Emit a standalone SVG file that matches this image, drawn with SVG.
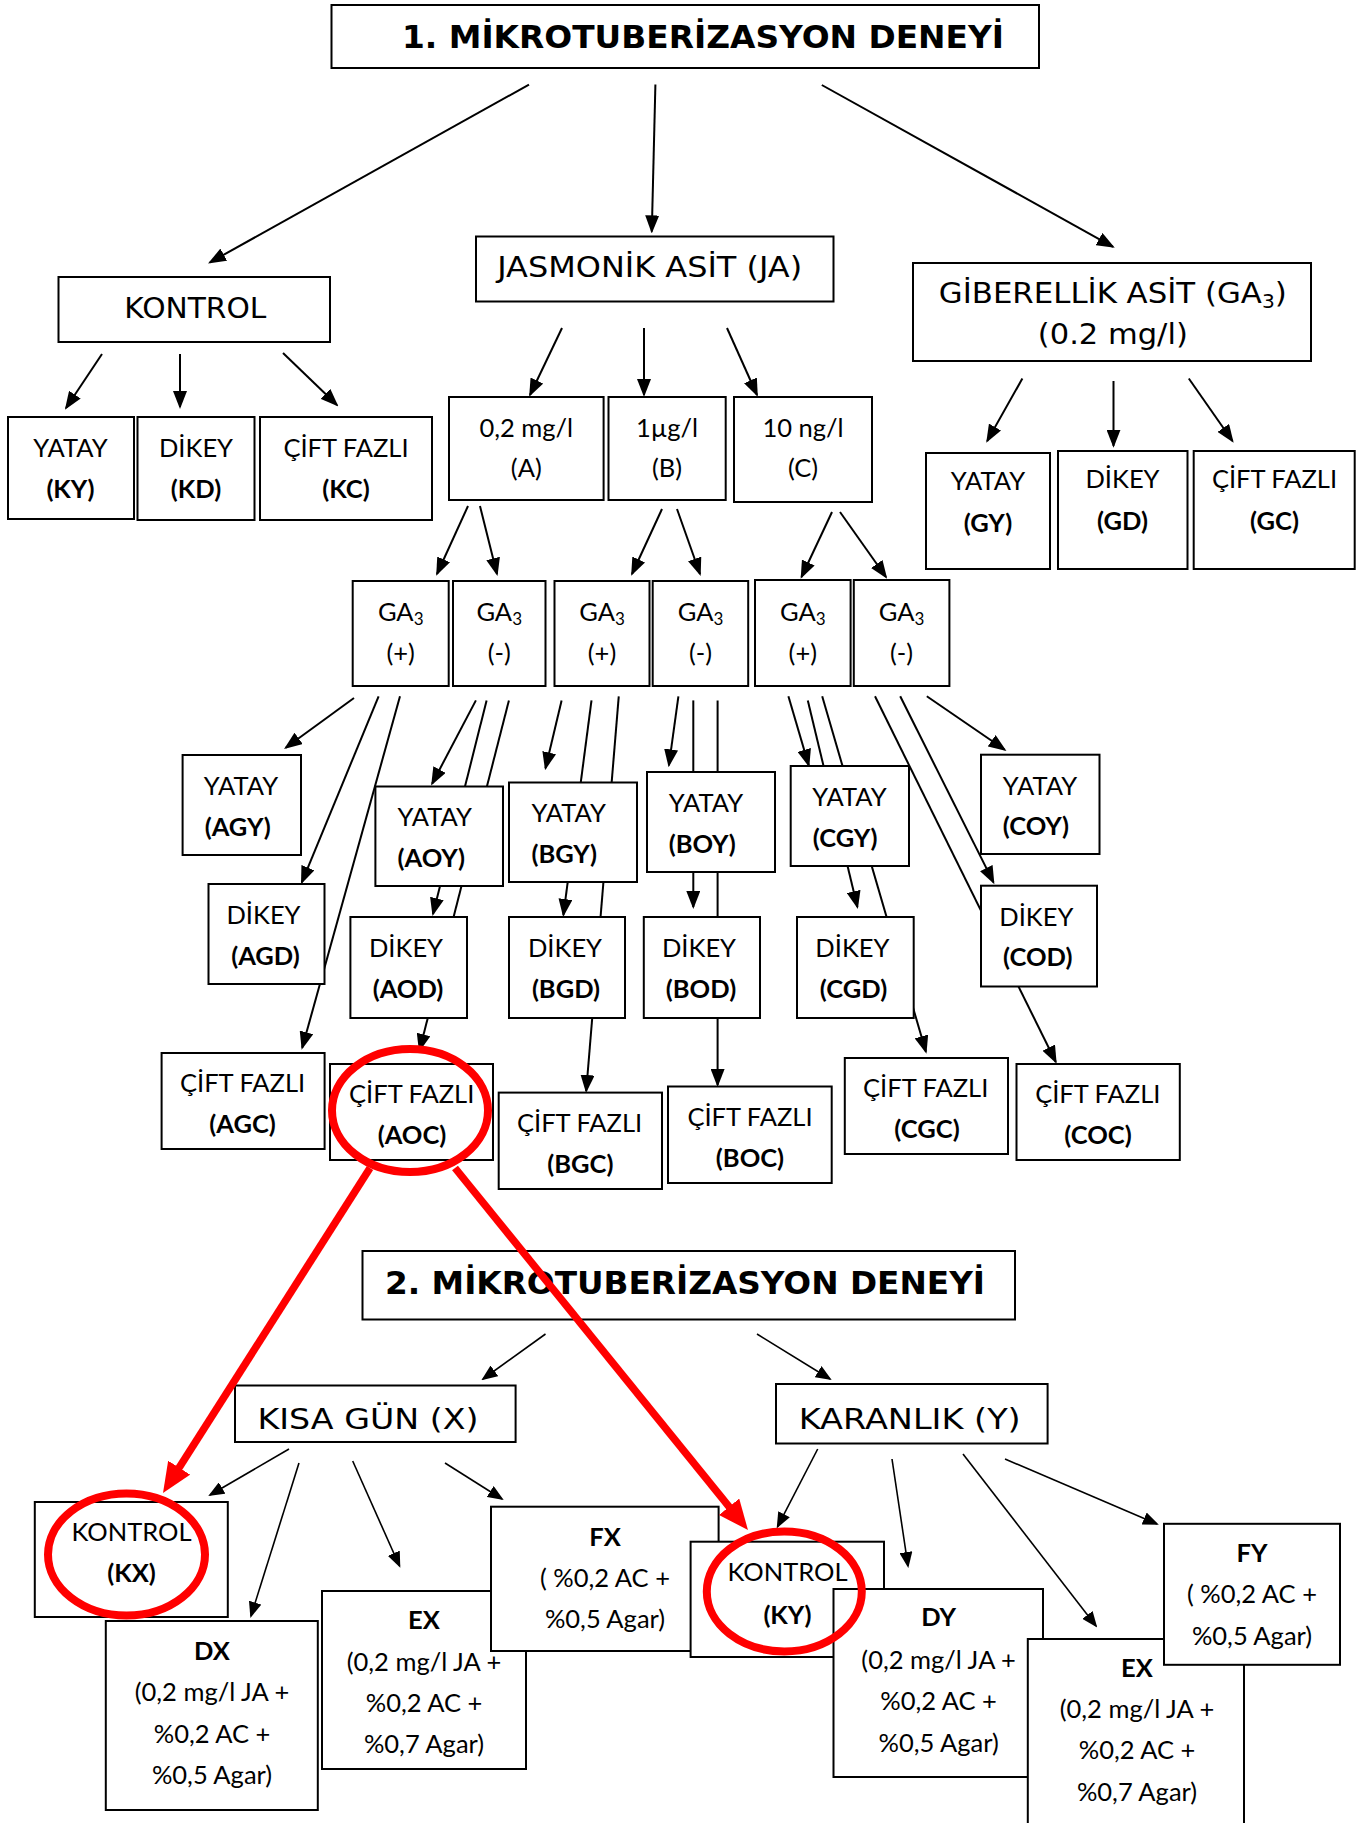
<svg xmlns="http://www.w3.org/2000/svg" width="1357" height="1823" viewBox="0 0 1357 1823">
<defs>
<style>
.b{fill:#fff;stroke:#000;stroke-width:2}
.v{font-family:"DejaVu Sans",Verdana,sans-serif;font-size:29px;text-anchor:middle;fill:#000}
.t{font-family:"DejaVu Sans",Verdana,sans-serif;font-weight:bold;font-size:32.5px;text-anchor:middle;fill:#000}
.c{font-family:Lato,"Liberation Sans",sans-serif;font-size:25.5px;text-anchor:middle;fill:#000}
.cb{font-weight:bold}
.ln{stroke:#000;stroke-width:2;fill:none;marker-end:url(#ah)}
.ls{stroke:#000;stroke-width:1.6;fill:none;marker-end:url(#ahs)}
.rd{stroke:#ff0000;stroke-width:8;fill:none}
.ra{stroke:#ff0000;stroke-width:7.5;fill:none;marker-end:url(#rah)}
</style>
<marker id="ah" markerUnits="userSpaceOnUse" markerWidth="18" markerHeight="14" refX="16" refY="7" orient="auto"><path d="M0,0 L18,7 L0,14 z" fill="#000"/></marker>
<marker id="ahs" markerUnits="userSpaceOnUse" markerWidth="16" markerHeight="13" refX="14" refY="6.5" orient="auto"><path d="M0,0 L16,6.5 L0,13 z" fill="#000"/></marker>
<marker id="rah" markerUnits="userSpaceOnUse" markerWidth="30" markerHeight="26" refX="14" refY="13" orient="auto"><path d="M0,0 L30,13 L0,26 z" fill="#ff0000"/></marker>
</defs>
<rect width="1357" height="1823" fill="#fff"/>

<g id="connectors">
<line class="ln" x1="529" y1="84.6" x2="209.8" y2="262.5"/>
<line class="ln" x1="655.4" y1="84.6" x2="651.8" y2="231.4"/>
<line class="ln" x1="821.8" y1="85" x2="1113" y2="246.8"/>
<line class="ln" x1="102" y1="354" x2="66" y2="408"/>
<line class="ln" x1="180" y1="354" x2="180" y2="407"/>
<line class="ln" x1="283" y1="353" x2="337" y2="405"/>
<line class="ln" x1="562" y1="328" x2="530" y2="395"/>
<line class="ln" x1="644" y1="328" x2="644" y2="395"/>
<line class="ln" x1="727" y1="328" x2="757" y2="395"/>
<line class="ln" x1="1022.4" y1="378.5" x2="987.2" y2="441"/>
<line class="ln" x1="1113.5" y1="381" x2="1113.5" y2="445.8"/>
<line class="ln" x1="1188.8" y1="378.5" x2="1232.5" y2="441"/>
<line class="ln" x1="468" y1="506" x2="437" y2="574"/>
<line class="ln" x1="480" y1="506" x2="497" y2="574"/>
<line class="ln" x1="662" y1="509" x2="632" y2="574"/>
<line class="ln" x1="677" y1="509" x2="700" y2="574"/>
<line class="ln" x1="832" y1="512" x2="801.5" y2="577"/>
<line class="ln" x1="840" y1="512" x2="886" y2="577"/>
<line class="ln" x1="354" y1="698" x2="285.7" y2="747.8"/>
<line class="ln" x1="378.6" y1="696.3" x2="301.8" y2="882.4"/>
<line class="ln" x1="400" y1="696.3" x2="302.2" y2="1047.8"/>
<line class="ln" x1="475.9" y1="700.4" x2="432.1" y2="783.7"/>
<line class="ln" x1="486.6" y1="700.4" x2="433" y2="914"/>
<line class="ln" x1="508.9" y1="700.4" x2="419.6" y2="1050"/>
<line class="ln" x1="561.6" y1="700.4" x2="545.5" y2="768.2"/>
<line class="ln" x1="591.5" y1="700.4" x2="563.4" y2="915"/>
<line class="ln" x1="618.75" y1="696.3" x2="586.2" y2="1091"/>
<line class="ln" x1="678.4" y1="696.3" x2="668.9" y2="765.3"/>
<line class="ln" x1="693.3" y1="700.4" x2="693.3" y2="907"/>
<line class="ln" x1="717.6" y1="700.4" x2="717.6" y2="1085"/>
<line class="ln" x1="788.4" y1="696.3" x2="808.7" y2="765.3"/>
<line class="ln" x1="807.8" y1="700.4" x2="857.4" y2="907"/>
<line class="ln" x1="822.2" y1="696.3" x2="925.9" y2="1051.8"/>
<line class="ln" x1="926.8" y1="696.3" x2="1004.8" y2="749.8"/>
<line class="ln" x1="900.2" y1="696.3" x2="993.5" y2="882.4"/>
<line class="ln" x1="875" y1="696.3" x2="1055.8" y2="1062"/>
<line class="ls" x1="545.5" y1="1334" x2="483" y2="1379"/>
<line class="ls" x1="757" y1="1334" x2="830" y2="1379"/>
<line class="ls" x1="289" y1="1449" x2="210" y2="1495"/>
<line class="ls" x1="299" y1="1463" x2="251" y2="1616"/>
<line class="ls" x1="352.7" y1="1461" x2="399.5" y2="1566"/>
<line class="ls" x1="445" y1="1463" x2="502" y2="1499"/>
<line class="ls" x1="817.7" y1="1449" x2="777.6" y2="1526.6"/>
<line class="ls" x1="892" y1="1459" x2="908" y2="1566"/>
<line class="ls" x1="963" y1="1454" x2="1096" y2="1626"/>
<line class="ls" x1="1005" y1="1459" x2="1157" y2="1524"/>
</g>

<g id="title1"><rect class="b" x="331.5" y="5" width="707.5" height="63"/><text class="t" x="703" y="47.7" textLength="602" lengthAdjust="spacingAndGlyphs">1. MİKROTUBERİZASYON DENEYİ</text></g>

<g id="kontrol"><rect class="b" x="58.5" y="277" width="271.5" height="65"/><text class="v" x="195.3" y="318" textLength="142" lengthAdjust="spacingAndGlyphs">KONTROL</text></g>
<g id="ja"><rect class="b" x="476" y="236.5" width="357.5" height="65"/><text class="v" x="649.7" y="277" textLength="305" lengthAdjust="spacingAndGlyphs">JASMONİK ASİT (JA)</text></g>
<g id="ga"><rect class="b" x="913" y="263" width="398" height="98"/><text class="v" x="1112.8" y="303.4" textLength="348" lengthAdjust="spacingAndGlyphs">GİBERELLİK ASİT (GA<tspan font-size="19" dy="5">3</tspan><tspan dy="-5">)</tspan></text><text class="v" x="1112.8" y="344" textLength="150" lengthAdjust="spacingAndGlyphs">(0.2 mg/l)</text></g>

<g id="ky"><rect class="b" x="8" y="417" width="126" height="102"/><text class="c" x="70.5" y="456.5">YATAY</text><text class="c cb" x="70.5" y="497.5">(KY)</text></g>
<g id="kd"><rect class="b" x="137.5" y="417" width="117" height="103"/><text class="c" x="196" y="456.5">DİKEY</text><text class="c cb" x="196" y="497.5">(KD)</text></g>
<g id="kc"><rect class="b" x="260" y="417" width="172" height="103"/><text class="c" x="346" y="456.5">ÇİFT FAZLI</text><text class="c cb" x="346" y="497.5">(KC)</text></g>

<g id="gy"><rect class="b" x="926" y="453" width="124" height="116"/><text class="c" x="988" y="490">YATAY</text><text class="c cb" x="988" y="532">(GY)</text></g>
<g id="gd"><rect class="b" x="1058" y="451" width="129.5" height="118"/><text class="c" x="1122.5" y="488">DİKEY</text><text class="c cb" x="1122.5" y="530">(GD)</text></g>
<g id="gc"><rect class="b" x="1193.7" y="451" width="161" height="118"/><text class="c" x="1274.5" y="488">ÇİFT FAZLI</text><text class="c cb" x="1274.5" y="530">(GC)</text></g>

<g id="conc-a"><rect class="b" x="449" y="397" width="154.6" height="103"/><text class="c" x="526.3" y="436.5">0,2 mg/l</text><text class="c" x="526.3" y="477">(A)</text></g>
<g id="conc-b"><rect class="b" x="608.5" y="397" width="117.2" height="103"/><text class="c" x="667" y="436.5">1µg/l</text><text class="c" x="667" y="477">(B)</text></g>
<g id="conc-c"><rect class="b" x="734" y="397" width="138" height="105"/><text class="c" x="803" y="436.5">10 ng/l</text><text class="c" x="803" y="477">(C)</text></g>

<g id="ga-ap"><rect class="b" x="352.7" y="581" width="96" height="105"/><text class="c" x="400.7" y="621">GA<tspan font-size="17" dy="4">3</tspan></text><text class="c" x="400.7" y="661.5">(+)</text></g>
<g id="ga-am"><rect class="b" x="453" y="581" width="92.5" height="105"/><text class="c" x="499.2" y="621">GA<tspan font-size="17" dy="4">3</tspan></text><text class="c" x="499.2" y="661.5">(-)</text></g>
<g id="ga-bp"><rect class="b" x="554.5" y="581" width="95" height="105"/><text class="c" x="602" y="621">GA<tspan font-size="17" dy="4">3</tspan></text><text class="c" x="602" y="661.5">(+)</text></g>
<g id="ga-bm"><rect class="b" x="652.7" y="581" width="95.5" height="105"/><text class="c" x="700.5" y="621">GA<tspan font-size="17" dy="4">3</tspan></text><text class="c" x="700.5" y="661.5">(-)</text></g>
<g id="ga-cp"><rect class="b" x="755" y="580" width="95.6" height="106"/><text class="c" x="802.8" y="621">GA<tspan font-size="17" dy="4">3</tspan></text><text class="c" x="802.8" y="661.5">(+)</text></g>
<g id="ga-cm"><rect class="b" x="853.8" y="580" width="95.6" height="106"/><text class="c" x="901.6" y="621">GA<tspan font-size="17" dy="4">3</tspan></text><text class="c" x="901.6" y="661.5">(-)</text></g>

<g id="agy"><rect class="b" x="182.6" y="755" width="118.4" height="100"/><text class="c" x="241" y="795">YATAY</text><text class="c cb" x="237.7" y="835.5">(AGY)</text></g>
<g id="agd"><rect class="b" x="208.5" y="884" width="116" height="100"/><text class="c" x="263.5" y="924">DİKEY</text><text class="c cb" x="265.5" y="964.5">(AGD)</text></g>
<g id="agc"><rect class="b" x="161.6" y="1053" width="163" height="96"/><text class="c" x="242.6" y="1092">ÇİFT FAZLI</text><text class="c cb" x="242.6" y="1133">(AGC)</text></g>
<g id="aoy"><rect class="b" x="375.4" y="786.5" width="127.6" height="99.5"/><text class="c" x="434.7" y="825.5">YATAY</text><text class="c cb" x="431.3" y="867">(AOY)</text></g>
<g id="aod"><rect class="b" x="350.4" y="917" width="116.6" height="101"/><text class="c" x="406" y="957">DİKEY</text><text class="c cb" x="408" y="997.5">(AOD)</text></g>
<g id="aoc"><rect class="b" x="330" y="1064" width="163" height="96"/><text class="c" x="411.7" y="1103">ÇİFT FAZLI</text><text class="c cb" x="412" y="1144">(AOC)</text></g>
<g id="bgy"><rect class="b" x="509" y="782.5" width="128" height="99.5"/><text class="c" x="568.7" y="822">YATAY</text><text class="c cb" x="564.3" y="863">(BGY)</text></g>
<g id="bgd"><rect class="b" x="509" y="917" width="116" height="101"/><text class="c" x="565" y="957">DİKEY</text><text class="c cb" x="566" y="997.5">(BGD)</text></g>
<g id="bgc"><rect class="b" x="498.7" y="1092.6" width="163.3" height="96.4"/><text class="c" x="579.6" y="1132">ÇİFT FAZLI</text><text class="c cb" x="580.4" y="1173">(BGC)</text></g>
<g id="boy"><rect class="b" x="647" y="772" width="128" height="100"/><text class="c" x="706" y="812">YATAY</text><text class="c cb" x="702.3" y="852.5">(BOY)</text></g>
<g id="bod"><rect class="b" x="643.8" y="917" width="116.2" height="101"/><text class="c" x="699" y="957">DİKEY</text><text class="c cb" x="701" y="997.5">(BOD)</text></g>
<g id="boc"><rect class="b" x="668" y="1086.5" width="163.7" height="96.5"/><text class="c" x="750" y="1126">ÇİFT FAZLI</text><text class="c cb" x="750" y="1167">(BOC)</text></g>
<g id="cgy"><rect class="b" x="790.7" y="766" width="118.3" height="100"/><text class="c" x="849.5" y="806">YATAY</text><text class="c cb" x="845.2" y="846.5">(CGY)</text></g>
<g id="cgd"><rect class="b" x="797" y="917" width="116.7" height="101"/><text class="c" x="852.4" y="957">DİKEY</text><text class="c cb" x="853.5" y="997.5">(CGD)</text></g>
<g id="cgc"><rect class="b" x="844.8" y="1058" width="163.2" height="96"/><text class="c" x="925.7" y="1097">ÇİFT FAZLI</text><text class="c cb" x="927" y="1138">(CGC)</text></g>
<g id="coy"><rect class="b" x="981" y="754.7" width="118.5" height="99.3"/><text class="c" x="1040" y="794.7">YATAY</text><text class="c cb" x="1036" y="835.2">(COY)</text></g>
<g id="cod"><rect class="b" x="981" y="885.7" width="116" height="100.8"/><text class="c" x="1036.3" y="925.7">DİKEY</text><text class="c cb" x="1037.7" y="966.2">(COD)</text></g>
<g id="coc"><rect class="b" x="1016.5" y="1064" width="163.3" height="96"/><text class="c" x="1097.8" y="1103">ÇİFT FAZLI</text><text class="c cb" x="1098" y="1144">(COC)</text></g>

<g id="title2"><rect class="b" x="362.5" y="1251" width="652.5" height="68.5"/><text class="t" x="685" y="1294" textLength="600" lengthAdjust="spacingAndGlyphs">2. MİKROTUBERİZASYON DENEYİ</text></g>
<g id="kisa"><rect class="b" x="235" y="1385.5" width="280.6" height="56.5"/><text class="v" x="368" y="1428.5" font-size="32" textLength="221" lengthAdjust="spacingAndGlyphs">KISA GÜN (X)</text></g>
<g id="karanlik"><rect class="b" x="776" y="1384" width="271.6" height="59.5"/><text class="v" x="909.7" y="1428.5" font-size="32" textLength="222" lengthAdjust="spacingAndGlyphs">KARANLIK (Y)</text></g>

<g id="kx"><rect class="b" x="34.8" y="1502" width="193" height="115"/><text class="c" x="131.5" y="1541">KONTROL</text><text class="c cb" x="131.5" y="1582">(KX)</text></g>
<g id="dx"><rect class="b" x="105.8" y="1621" width="212" height="189"/><text class="c cb" x="212" y="1659.7">DX</text><text class="c" x="212" y="1701">(0,2 mg/l JA +</text><text class="c" x="212" y="1742.7">%0,2 AC +</text><text class="c" x="212" y="1784">%0,5 Agar)</text></g>
<g id="ex"><rect class="b" x="322" y="1591" width="204" height="178"/><text class="c cb" x="424" y="1629">EX</text><text class="c" x="424" y="1671">(0,2 mg/l JA +</text><text class="c" x="424" y="1712">%0,2 AC +</text><text class="c" x="424" y="1753">%0,7 Agar)</text></g>
<g id="fx"><rect class="b" x="491" y="1506.7" width="227.6" height="144.3"/><text class="c cb" x="605" y="1545.6">FX</text><text class="c" x="605" y="1586.6">( %0,2 AC +</text><text class="c" x="605" y="1628">%0,5 Agar)</text></g>
<g id="kyb"><rect class="b" x="690.6" y="1541.7" width="193.4" height="115.3"/><text class="c" x="787.5" y="1581.4">KONTROL</text><text class="c cb" x="787.5" y="1624">(KY)</text></g>
<g id="dy"><rect class="b" x="833.5" y="1589" width="209.5" height="188"/><text class="c cb" x="938.6" y="1626">DY</text><text class="c" x="938.6" y="1669">(0,2 mg/l JA +</text><text class="c" x="938.6" y="1709.7">%0,2 AC +</text><text class="c" x="938.6" y="1751.5">%0,5 Agar)</text></g>
<g id="ey"><rect class="b" x="1027.8" y="1639" width="216.2" height="200"/><text class="c cb" x="1137" y="1676.8">EX</text><text class="c" x="1137" y="1717.7">(0,2 mg/l JA +</text><text class="c" x="1137" y="1759">%0,2 AC +</text><text class="c" x="1137" y="1800.7">%0,7 Agar)</text></g>
<g id="fy"><rect class="b" x="1164" y="1523.8" width="176" height="141"/><text class="c cb" x="1252" y="1562">FY</text><text class="c" x="1252" y="1603">( %0,2 AC +</text><text class="c" x="1252" y="1645">%0,5 Agar)</text></g>

<g id="highlights">
<ellipse class="rd" cx="410" cy="1110.5" rx="78" ry="61.5"/>
<ellipse class="rd" cx="126.5" cy="1554.5" rx="78.5" ry="61"/>
<ellipse class="rd" cx="784.3" cy="1591.4" rx="77.5" ry="60"/>
<line class="ra" x1="370" y1="1168" x2="171.6" y2="1479.5"/>
<line class="ra" x1="455" y1="1168" x2="737.9" y2="1517.6"/>
</g>
</svg>
